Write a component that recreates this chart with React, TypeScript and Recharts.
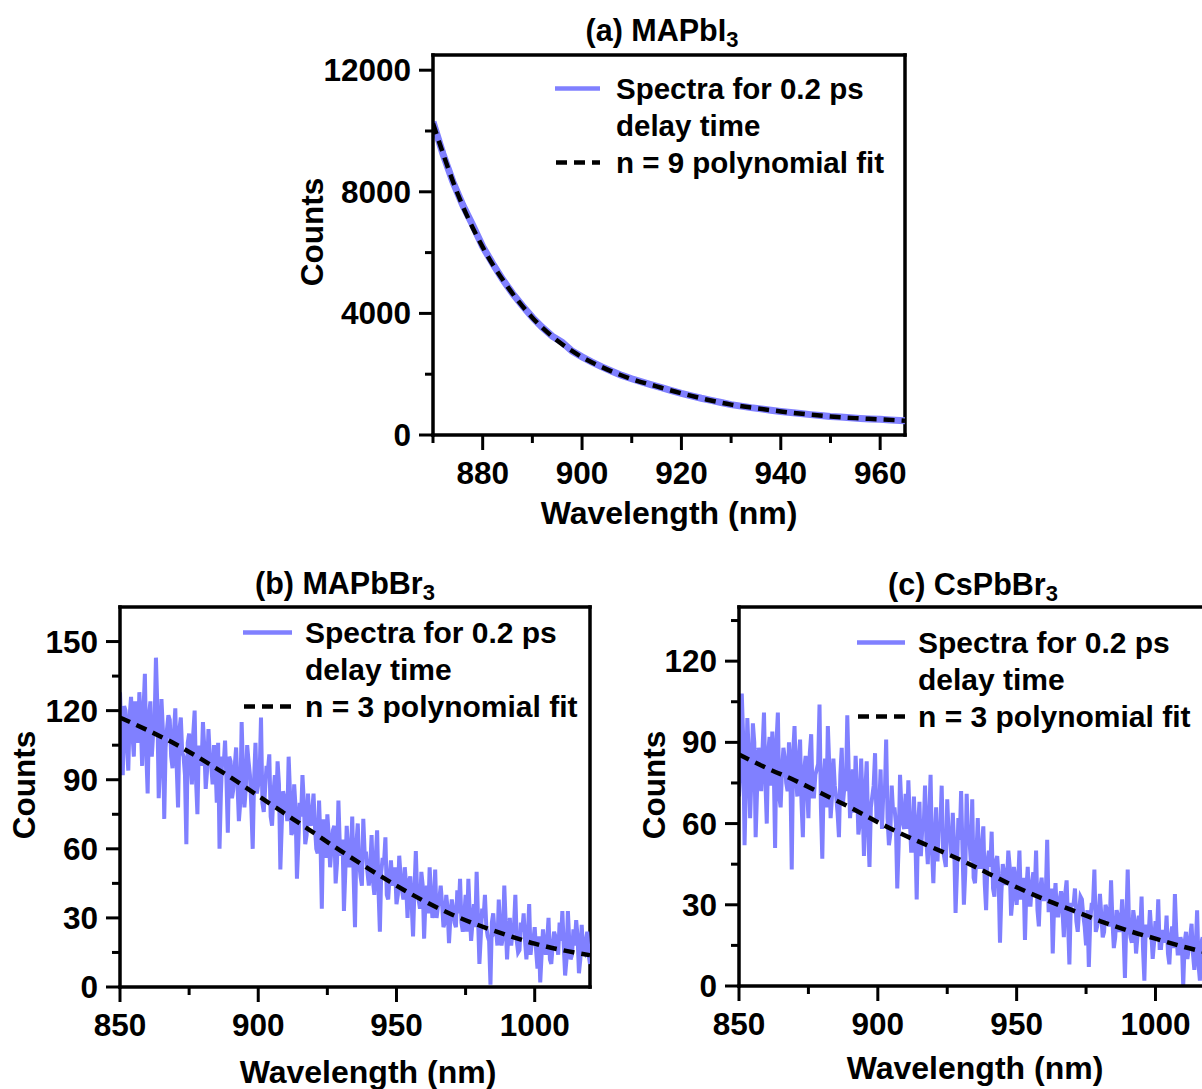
import React from 'react';
import { LineChart, Line, XAxis, YAxis, Legend, ReferenceLine } from 'recharts';

const FONT = '"Liberation Sans", Arial, Helvetica, sans-serif';
const PURPLE = '#8080ff';

// (a) MAPbI3 — spectra every 2 nm, fit every 5 nm
const aWavelength = [870, 872, 874, 876, 878, 880, 882, 884, 886, 888, 890, 892, 894, 896, 898, 900, 902, 904, 906, 908, 910, 912, 914, 916, 918, 920, 922, 924, 926, 928, 930, 932, 934, 936, 938, 940, 942, 944, 946, 948, 950, 952, 954, 956, 958, 960, 962, 964, 965];
const aSpectra = [10300, 9250, 8330, 7560, 6900, 6200, 5640, 5120, 4660, 4250, 3870, 3540, 3250, 3050, 2760, 2570, 2400, 2240, 2100, 1960, 1850, 1750, 1650, 1555, 1460, 1370, 1290, 1210, 1140, 1070, 1000, 950, 900, 860, 815, 775, 740, 705, 670, 640, 610, 590, 565, 545, 530, 515, 495, 475, 465];
const aFitWavelength = [870, 875, 880, 885, 890, 895, 900, 905, 910, 915, 920, 925, 930, 935, 940, 945, 950, 955, 960, 965];
const aFit = [10250, 7920, 6180, 4880, 3860, 3110, 2560, 2160, 1840, 1600, 1370, 1170, 1000, 880, 775, 685, 608, 555, 515, 470];

// (b) MAPbBr3 — spectra read at whole nm (from 850) and at the half nm between them
const bStart = 850;
const bSpectra = [
  128, 92, 120, 94, 126, 100, 118, 128, 96, 136, 84, 124, 110, 143, 82, 125, 73, 112, 116, 95,
  121, 78, 117, 100, 62, 110, 88, 120, 75, 104, 115, 86, 112, 96, 105, 80, 60, 100, 107, 67,
  98, 86, 104, 72, 115, 78, 105, 92, 60, 106, 88, 117, 76, 96, 101, 70, 92, 98, 51, 85,
  80, 100, 66, 88, 47, 80, 92, 62, 84, 70, 84, 60, 81, 34, 72, 75, 52, 68, 45, 81,
  57, 33, 70, 52, 74, 26, 71, 48, 73, 58, 44, 66, 40, 68, 24, 56, 65, 38, 55, 47,
  36, 57, 42, 52, 30, 48, 22, 59, 38, 50, 21, 44, 52, 30, 51, 35, 44, 26, 40, 19,
  38, 28, 42, 47, 24, 40, 47, 20, 36, 50, 10, 34, 40, 22, 1, 32, 25, 38, 18, 44,
  12, 30, 24, 40, 15, 28, 32, 12, 36, 20, 26, 8, 2, 25, 14, 30, 10, 24, 18, 28,
  33, 5, 33, 12, 25, 29, 6, 27, 15, 24, 10,
];
const bSpectraHalf = [
  108, 122, 104, 118, 110, 124, 106, 116, 120, 102, 118, 100, 114, 122, 96, 112, 104, 118, 100, 110,
  96, 112, 102, 92, 106, 98, 110, 90, 104, 96, 104, 94, 100, 88, 98, 106, 84, 96, 90, 100,
  82, 96, 88, 80, 94, 86, 98, 78, 90, 84, 92, 80, 86, 94, 74, 84, 78, 88, 70, 82,
  72, 84, 68, 78, 62, 74, 80, 66, 72, 76, 70, 58, 64, 72, 56, 66, 60, 70, 54, 62,
  64, 50, 60, 56, 48, 62, 54, 44, 58, 50, 52, 46, 56, 42, 50, 54, 40, 48, 44, 52,
  40, 48, 38, 44, 46, 36, 42, 40, 34, 44, 38, 32, 40, 34, 30, 38, 36, 28, 34, 30,
  34, 26, 32, 28, 30, 24, 32, 28, 26, 30, 22, 30, 26, 20, 28, 24, 18, 26, 22, 28,
  24, 18, 26, 20, 16, 24, 20, 22, 14, 20, 16, 22, 14, 18, 20, 12, 18, 22, 14, 20,
  18, 12, 20, 14, 18, 22, 12, 16, 20, 14,
];
const bFitWavelength = [850, 860, 870, 880, 890, 900, 910, 920, 930, 940, 950, 960, 970, 980, 990, 1000, 1010, 1020];
const bFit = [117, 111.5, 105.5, 98.5, 91, 83, 75, 67, 59, 51.3, 44, 37.3, 31.5, 26.7, 22.5, 18.8, 16, 13.8];

// (c) CsPbBr3 — spectra read at whole nm (from 850) and at the half nm between them
const cStart = 850;
const cSpectra = [
  70, 108, 52, 99, 62, 97, 55, 88, 72, 101, 60, 92, 94, 51, 101, 66, 88, 75, 90, 43,
  96, 70, 91, 55, 85, 62, 93, 70, 80, 104, 47, 84, 96, 62, 84, 70, 55, 88, 74, 100,
  62, 80, 85, 56, 84, 48, 83, 44, 70, 86, 62, 80, 72, 91, 52, 74, 66, 36, 78, 60,
  71, 76, 50, 70, 32, 68, 58, 74, 45, 78, 38, 66, 60, 74, 47, 69, 55, 64, 27, 62,
  72, 30, 71, 54, 69, 38, 62, 44, 59, 28, 50, 57, 33, 48, 16, 45, 38, 50, 26, 44,
  30, 50, 35, 17, 44, 30, 42, 50, 22, 40, 32, 54, 28, 12, 38, 26, 35, 18, 39, 8,
  30, 36, 20, 33, 26, 15, 7, 30, 43, 22, 34, 18, 30, 26, 39, 14, 28, 20, 32, 3,
  43, 18, 28, 12, 26, 33, 2, 22, 28, 10, 24, 32, 14, 20, 26, 8, 22, 34, 12, 18,
  0, 20, 14, 23, 6, 28, 2, 18, 12, 26, 10,
];
const cSpectraHalf = [
  80, 92, 74, 86, 78, 90, 72, 84, 88, 76, 86, 74, 82, 90, 70, 80, 84, 72, 78, 86,
  78, 84, 68, 80, 74, 86, 70, 78, 82, 66, 76, 66, 82, 70, 74, 64, 78, 68, 72, 80,
  70, 64, 74, 60, 68, 72, 58, 66, 74, 62, 66, 58, 70, 62, 56, 64, 60, 52, 66, 58,
  58, 62, 50, 56, 60, 48, 58, 54, 62, 50, 54, 46, 58, 50, 44, 56, 48, 52, 42, 54,
  50, 42, 54, 46, 40, 48, 44, 52, 38, 46, 44, 36, 46, 40, 34, 42, 38, 44, 32, 40,
  38, 32, 40, 36, 30, 38, 34, 28, 36, 32, 34, 28, 36, 30, 26, 32, 28, 34, 24, 30,
  30, 24, 28, 32, 22, 28, 24, 30, 20, 26, 26, 20, 28, 22, 24, 18, 26, 22, 20, 24,
  22, 16, 24, 18, 20, 14, 22, 18, 20, 16, 18, 14, 20, 16, 12, 18, 14, 20, 12, 16,
  16, 10, 18, 12, 14, 8, 16, 12, 14, 10,
];
const cFitWavelength = [850, 860, 870, 880, 890, 900, 910, 920, 930, 940, 950, 960, 970, 980, 990, 1000, 1010, 1020];
const cFit = [85.5, 80.5, 76, 71, 66, 60.5, 55.5, 51, 46.5, 41.5, 36.5, 32, 28, 24, 20.5, 17.5, 14.5, 12];

const toPoints = (xs: number[], ys: number[]) => ys.map((y, i) => ({ x: xs[i], y }));
const toSteps = (start: number, whole: number[], half: number[]) =>
  whole.flatMap((y, i) => (i < half.length ? [{ x: start + i, y }, { x: start + i + 0.5, y: half[i] }] : [{ x: start + i, y }]));

const TICK_FONT = 31.5;

const makeYTick = (majors: number[]) => (props: any) => {
  const { x, y, payload } = props;
  const major = majors.includes(payload.value);
  return (
    <g>
      <line x1={x} x2={x - (major ? 14 : 8)} y1={y} y2={y} stroke="#000" strokeWidth={3} />
      {major && (
        <text x={x - 22} y={y + 11} textAnchor="end" fontFamily={FONT} fontWeight="bold" fontSize={TICK_FONT} fill="#000">
          {payload.value}
        </text>
      )}
    </g>
  );
};

const makeXTick = (majors: number[]) => (props: any) => {
  const { x, y, payload } = props;
  const major = majors.includes(payload.value);
  return (
    <g>
      <line x1={x} x2={x} y1={y} y2={y + (major ? 15 : 8)} stroke="#000" strokeWidth={3} />
      {major && (
        <text x={x} y={y + 49} textAnchor="middle" fontFamily={FONT} fontWeight="bold" fontSize={TICK_FONT} fill="#000">
          {payload.value}
        </text>
      )}
    </g>
  );
};

const LegendBox = ({ fitLabel, fontSize, sample, gap }: { fitLabel: string; fontSize: number; sample: number; gap: number }) => (
  <div style={{ fontFamily: FONT, fontWeight: 'bold', fontSize, lineHeight: '37px', color: '#000', whiteSpace: 'nowrap' }}>
    <div style={{ display: 'flex', alignItems: 'center' }}>
      <svg width={sample + gap} height={37}>
        <line x1={0} x2={sample} y1={18.5} y2={18.5} stroke={PURPLE} strokeWidth={4.5} />
      </svg>
      <span>Spectra for 0.2 ps</span>
    </div>
    <div style={{ paddingLeft: sample + gap }}>delay time</div>
    <div style={{ display: 'flex', alignItems: 'center' }}>
      <svg width={sample + gap} height={37}>
        <line x1={1} x2={sample} y1={18.5} y2={18.5} stroke="#000" strokeWidth={4.5} strokeDasharray="11 7" />
      </svg>
      <span>{fitLabel}</span>
    </div>
  </div>
);

type PanelProps = {
  left: number;
  top: number;
  width: number;
  height: number;
  margin: { top: number; right: number; bottom: number; left: number };
  yAxisWidth: number;
  xAxisHeight: number;
  xDomain: [number, number];
  yDomain: [number, number];
  xTicks: number[];
  xMajor: number[];
  yTicks: number[];
  yMajor: number[];
  spectra: { x: number; y: number }[];
  fit: { x: number; y: number }[];
  spectraWidth: number;
  fitWidth: number;
  fitLabel: string;
  legendLeft: number;
  legendTop: number;
  legendFont: number;
  sample: number;
  gap: number;
};

const frame = { stroke: '#000', strokeWidth: 3.5, strokeLinecap: 'square' as const };

const Panel = (p: PanelProps) => (
  <div style={{ position: 'absolute', left: p.left, top: p.top }}>
    <LineChart width={p.width} height={p.height} margin={p.margin}>
      <XAxis
        type="number"
        dataKey="x"
        domain={p.xDomain}
        ticks={p.xTicks}
        interval={0}
        allowDataOverflow
        height={p.xAxisHeight}
        tickSize={0}
        tickMargin={0}
        tickLine={false}
        axisLine={frame}
        tick={makeXTick(p.xMajor)}
      />
      <YAxis
        type="number"
        domain={p.yDomain}
        ticks={p.yTicks}
        interval={0}
        allowDataOverflow
        width={p.yAxisWidth}
        tickSize={0}
        tickMargin={0}
        tickLine={false}
        axisLine={frame}
        tick={makeYTick(p.yMajor)}
      />
      <ReferenceLine y={p.yDomain[1]} stroke="#000" strokeWidth={3.5} strokeLinecap="square" />
      <ReferenceLine x={p.xDomain[1]} stroke="#000" strokeWidth={3.5} strokeLinecap="square" />
      <Legend
        layout="vertical"
        align="center"
        verticalAlign="middle"
        wrapperStyle={{ left: p.legendLeft, top: p.legendTop, width: 'auto' }}
        content={() => <LegendBox fitLabel={p.fitLabel} fontSize={p.legendFont} sample={p.sample} gap={p.gap} />}
      />
      <Line data={p.spectra} dataKey="y" type="linear" stroke={PURPLE} strokeWidth={p.spectraWidth} dot={false} isAnimationActive={false} />
      <Line data={p.fit} dataKey="y" type="monotone" stroke="#000" strokeWidth={p.fitWidth} strokeDasharray="11 7" dot={false} isAnimationActive={false} />
    </LineChart>
  </div>
);

const textBase: React.CSSProperties = {
  position: 'absolute',
  fontFamily: FONT,
  fontWeight: 'bold',
  color: '#000',
  whiteSpace: 'nowrap',
  lineHeight: 1,
};

const Title = ({ x, y, children }: { x: number; y: number; children: React.ReactNode }) => (
  <div style={{ ...textBase, left: x, top: y, fontSize: 30.5, transform: 'translate(-50%, -50%)' }}>{children}</div>
);

const Sub = ({ children }: { children: React.ReactNode }) => (
  <span style={{ fontSize: '0.72em', position: 'relative', top: '0.28em' }}>{children}</span>
);

const XTitle = ({ x, y }: { x: number; y: number }) => (
  <div style={{ ...textBase, left: x, top: y, fontSize: 32, transform: 'translate(-50%, -50%)' }}>Wavelength (nm)</div>
);

const YTitle = ({ x, y }: { x: number; y: number }) => (
  <div style={{ ...textBase, left: x, top: y, fontSize: 31.5, transform: 'translate(-50%, -50%) rotate(-90deg)' }}>Counts</div>
);

export default function App() {
  return (
    <div style={{ position: 'fixed', left: 0, top: 0, width: 1202, height: 1089, overflow: 'hidden', background: '#fff' }}>
      <Panel
        left={283}
        top={0}
        width={662}
        height={540}
        margin={{ top: 55, right: 40, bottom: 5, left: 0 }}
        yAxisWidth={150}
        xAxisHeight={100}
        xDomain={[870, 965]}
        yDomain={[0, 12500]}
        xTicks={[870, 880, 890, 900, 910, 920, 930, 940, 950, 960]}
        xMajor={[880, 900, 920, 940, 960]}
        yTicks={[0, 2000, 4000, 6000, 8000, 10000, 12000]}
        yMajor={[0, 4000, 8000, 12000]}
        spectra={toPoints(aWavelength, aSpectra)}
        fit={toPoints(aFitWavelength, aFit)}
        spectraWidth={7}
        fitWidth={4.5}
        fitLabel="n = 9 polynomial fit"
        legendLeft={272}
        legendTop={69.5}
        legendFont={29.5}
        sample={45}
        gap={16}
      />
      <Panel
        left={0}
        top={560}
        width={620}
        height={529}
        margin={{ top: 47, right: 30, bottom: 22, left: 0 }}
        yAxisWidth={120}
        xAxisHeight={80}
        xDomain={[850, 1020]}
        yDomain={[0, 165]}
        xTicks={[850, 875, 900, 925, 950, 975, 1000]}
        xMajor={[850, 900, 950, 1000]}
        yTicks={[0, 15, 30, 45, 60, 75, 90, 105, 120, 135, 150]}
        yMajor={[0, 30, 60, 90, 120, 150]}
        spectra={toSteps(bStart, bSpectra, bSpectraHalf)}
        fit={toPoints(bFitWavelength, bFit)}
        spectraWidth={4}
        fitWidth={4.5}
        fitLabel="n = 3 polynomial fit"
        legendLeft={243}
        legendTop={53.5}
        legendFont={30}
        sample={49}
        gap={13}
      />
      <Panel
        left={620}
        top={560}
        width={600}
        height={529}
        margin={{ top: 47, right: 9, bottom: 23, left: 0 }}
        yAxisWidth={119}
        xAxisHeight={80}
        xDomain={[850, 1020]}
        yDomain={[0, 140]}
        xTicks={[850, 875, 900, 925, 950, 975, 1000]}
        xMajor={[850, 900, 950, 1000]}
        yTicks={[0, 15, 30, 45, 60, 75, 90, 105, 120, 135]}
        yMajor={[0, 30, 60, 90, 120]}
        spectra={toSteps(cStart, cSpectra, cSpectraHalf)}
        fit={toPoints(cFitWavelength, cFit)}
        spectraWidth={4}
        fitWidth={4.5}
        fitLabel="n = 3 polynomial fit"
        legendLeft={237}
        legendTop={63.5}
        legendFont={30}
        sample={48}
        gap={13}
      />

      <Title x={662} y={30}>(a) MAPbI<Sub>3</Sub></Title>
      <Title x={345} y={583}>(b) MAPbBr<Sub>3</Sub></Title>
      <Title x={973} y={584}>(c) CsPbBr<Sub>3</Sub></Title>

      <XTitle x={669} y={513} />
      <XTitle x={368} y={1072} />
      <XTitle x={975} y={1068} />

      <YTitle x={313} y={232} />
      <YTitle x={25} y={785} />
      <YTitle x={655} y={785} />
    </div>
  );
}
